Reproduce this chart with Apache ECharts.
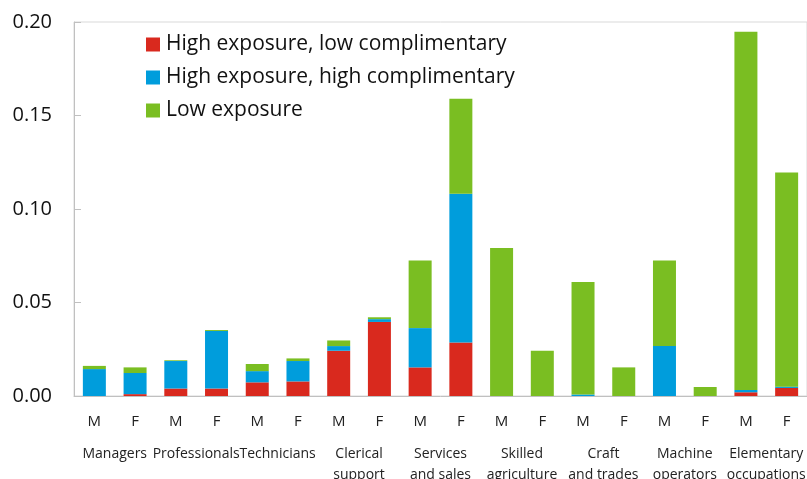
<!DOCTYPE html>
<html>
<head>
<meta charset="utf-8">
<script src="https://cdn.jsdelivr.net/npm/echarts@6/dist/echarts.min.js"></script>
<style>
  html, body { margin: 0; padding: 0; background: #fff; }
  #chart { width: 807px; height: 479px; }
</style>
</head>
<body>
<div id="chart"></div>
<script>
// categories (sex within occupation group)
var sexes = ['M', 'F', 'M', 'F', 'M', 'F', 'M', 'F', 'M', 'F', 'M', 'F', 'M', 'F', 'M', 'F', 'M', 'F'];
var groups = ['Managers', 'Professionals', 'Technicians', 'Clerical\nsupport', 'Services\nand sales',
  'Skilled\nagriculture', 'Craft\nand trades', 'Machine\noperators', 'Elementary\noccupations'];
var yTicks = [0, 0.05, 0.10, 0.15, 0.20];

// series values
var highLow = [0, 0.001, 0.004, 0.004, 0.0073, 0.0078, 0.0242, 0.0396, 0.0153, 0.0286, 0, 0, 0, 0, 0, 0, 0.002, 0.0043];
var highHigh = [0.0144, 0.0113, 0.0147, 0.0308, 0.006, 0.0109, 0.0025, 0.0015, 0.021, 0.0796, 0, 0, 0.0008, 0, 0.0267, 0, 0.0012, 0.0007];
var lowExp = [0.0017, 0.003, 0.0004, 0.0005, 0.0038, 0.0014, 0.003, 0.001, 0.0362, 0.0507, 0.0791, 0.0242, 0.0601, 0.0153, 0.0458, 0.0048, 0.1916, 0.1145];

var FONT = '"Open Sans", "Noto Sans", sans-serif';
var GRAY = '#c0c0c0';

var chart = echarts.init(document.getElementById('chart'));

var option = {
  animation: false,
  grid: {
    left: 74, right: 0, top: 22, bottom: 83,
    outerBoundsMode: 'none', containLabel: false,
    show: true, borderColor: '#d9d9d9', borderWidth: 1
  },
  legend: {
    orient: 'vertical',
    left: 146, top: 34, padding: 0,
    itemWidth: 14, itemHeight: 14, itemGap: 12,
    icon: 'rect',
    textStyle: { fontFamily: FONT, fontSize: 21, color: '#111', padding: [0, 0, 0, 1] },
    data: ['High exposure, low complimentary', 'High exposure, high complimentary', 'Low exposure']
  },
  xAxis: [
    {
      type: 'category',
      data: sexes,
      axisLine: { lineStyle: { color: GRAY } },
      axisTick: { interval: 0, length: 36, lineStyle: { color: GRAY } },
      axisLabel: { interval: 0, margin: 18, fontFamily: FONT, fontSize: 15, color: '#222' }
    },
    {
      type: 'category',
      position: 'bottom',
      data: groups,
      axisLine: { show: false },
      axisTick: { interval: 0, length: 83, lineStyle: { color: GRAY } },
      axisLabel: { interval: 0, margin: 48, fontFamily: FONT, fontSize: 14, color: '#222', lineHeight: 21 }
    }
  ],
  yAxis: {
    type: 'value',
    min: yTicks[0], max: yTicks[yTicks.length - 1], interval: 0.05,
    axisLine: { show: true, lineStyle: { color: GRAY } },
    axisTick: { show: true, inside: true, length: 7, lineStyle: { color: GRAY } },
    splitLine: { show: false },
    axisLabel: {
      margin: 22, fontFamily: FONT, fontSize: 20, color: '#111',
      formatter: function (v) { return v.toFixed(2); }
    }
  },
  series: [
    { name: 'High exposure, low complimentary', type: 'bar', stack: 'a', barWidth: 23, data: highLow, itemStyle: { color: '#D9291E' } },
    { name: 'High exposure, high complimentary', type: 'bar', stack: 'a', barWidth: 23, data: highHigh, itemStyle: { color: '#009DDC' } },
    { name: 'Low exposure', type: 'bar', stack: 'a', barWidth: 23, data: lowExp, itemStyle: { color: '#7ABE22' } }
  ]
};

chart.setOption(option);
</script>
</body>
</html>
